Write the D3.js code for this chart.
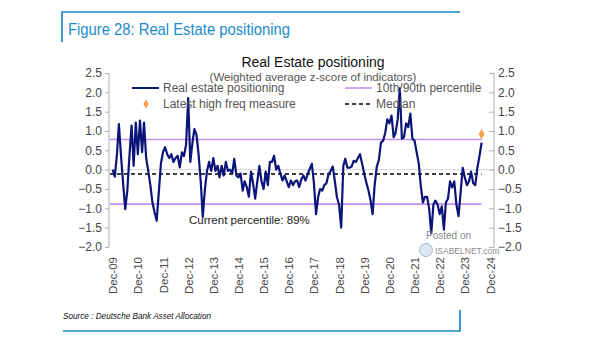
<!DOCTYPE html>
<html><head><meta charset="utf-8">
<script src="https://cdn.jsdelivr.net/npm/d3@7"></script>
<style>
html,body{margin:0;padding:0;background:#fff;}
svg{display:block;font-family:"Liberation Sans",Arial,sans-serif;}
</style></head>
<body><svg id="c" width="605" height="341"></svg>
<script>
// ---- data (monthly, Dec-2009 .. Aug-2024) ----
const startMonth = "2009-12-01";
const positioning = [
 0.0,-0.18,0.4,1.18,0.35,-0.35,-1.02,-0.55,0.35,1.14,
 0.1,1.22,0.4,1.27,0.45,1.22,0.3,-0.03,-0.4,-0.85,
 -1.1,-1.32,-0.6,0.15,0.45,0.58,0.4,0.3,0.4,0.2,
 0.3,0.36,0.06,0.45,0.35,0.65,1.85,0.2,0.7,1.05,
 0.9,0.4,-0.3,-1.22,-0.5,-0.03,0.2,-0.03,0.3,-0.03,
 0.1,-0.2,0.1,-0.15,0.2,-0.03,0.0,-0.1,0.28,-0.15,
 -0.2,-0.1,-0.54,-0.3,-0.45,-0.7,-0.05,-0.35,-0.75,-0.3,
 0.1,-0.3,-0.5,-0.05,-0.4,0.2,0.2,0.36,0.0,0.1,
 -0.1,-0.28,-0.15,-0.3,-0.45,-0.28,-0.4,-0.3,-0.28,-0.45,
 -0.25,-0.15,-0.28,-0.12,0.02,0.15,-0.35,-1.15,-0.7,-0.5,
 -0.54,-0.4,-0.35,-0.12,-0.03,0.08,-0.3,-0.72,-0.9,-1.5,
 0.1,0.28,0.05,0.05,0.08,0.23,0.2,0.3,0.4,0.15,
 -0.1,-0.33,-0.54,-0.78,-1.15,-0.4,0.08,0.25,0.7,0.75,
 0.95,1.3,1.2,1.4,0.84,0.95,1.3,2.1,0.8,0.84,
 1.2,1.1,1.45,0.8,0.75,0.45,0.15,-0.4,-0.85,-0.7,
 -0.7,-1.0,-1.65,-0.9,-0.8,-0.9,-1.15,-0.95,-1.55,-0.85,
 -0.75,-0.3,-0.46,-0.3,-0.9,-1.2,-0.6,0.05,-0.2,-0.4,
 -0.3,-0.05,-0.35,-0.4,0.05,0.35,0.7
];
const percentile90 = 0.78;
const percentile10 = -0.89;
const medianValue = -0.11;
const latestHighFreq = 0.92;
const currentPercentileText = "Current percentile: 89%";
const yTicks = [-2.0,-1.5,-1.0,-0.5,0.0,0.5,1.0,1.5,2.0,2.5];
const xTickYears = [2009,2010,2011,2012,2013,2014,2015,2016,2017,2018,2019,2020,2021,2022,2023,2024];
const xTickLabels = ["Dec-09","Dec-10","Dec-11","Dec-12","Dec-13","Dec-14","Dec-15","Dec-16","Dec-17","Dec-18","Dec-19","Dec-20","Dec-21","Dec-22","Dec-23","Dec-24"];

// ---- build ----
const svg = d3.select("#c");
const start = new Date(startMonth + "T00:00:00");
const series = positioning.map((v,i)=>({date:d3.timeMonth.offset(start,i), value:v}));
const lastDate = series[series.length-1].date;

const plotL = 109, plotR = 494, plotT = 73, plotB = 247;
const x = d3.scaleTime()
  .domain([new Date(2009,11,1), new Date(2024,11,1)])
  .range([112.7, 490]);
const y = d3.scaleLinear().domain([-2,2.5]).range([plotB, plotT]);

// Header frame
const blue = "#1b86c4";
svg.append("path").attr("d","M62,42 V12 H460").attr("fill","none").attr("stroke",blue).attr("stroke-width",1.7);
svg.append("text").attr("x",68).attr("y",35).attr("fill","#1a8ccb")
  .attr("font-size",17).attr("textLength",222).attr("lengthAdjust","spacingAndGlyphs")
  .text("Figure 28: Real Estate positioning");
svg.append("path").attr("d","M63,331 H460 V310").attr("fill","none").attr("stroke",blue).attr("stroke-width",1.7);
svg.append("text").attr("x",63).attr("y",319).attr("fill","#111")
  .attr("font-size",9.5).attr("font-style","italic").attr("textLength",148).attr("lengthAdjust","spacingAndGlyphs")
  .text("Source : Deutsche Bank Asset Allocation");

// Chart titles
svg.append("text").attr("x",313).attr("y",67).attr("text-anchor","middle").attr("font-size",14).attr("fill","#111")
  .text("Real Estate positioning");
svg.append("text").attr("x",313).attr("y",81).attr("text-anchor","middle").attr("font-size",11.5).attr("fill","#555")
  .text("(Weighted average z-score of indicators)");

// zero grid line
svg.append("line").attr("x1",plotL).attr("x2",plotR).attr("y1",y(0)).attr("y2",y(0))
  .attr("stroke","#d8d8d8").attr("stroke-width",1);

// Axes
const axisColor = "#b0b0b0";
const fmt = d3.format(".1f");
const gL = svg.append("g").attr("transform",`translate(${plotL},0)`)
  .call(d3.axisLeft(y).tickValues(yTicks).tickFormat(fmt).tickSize(4).tickPadding(3));
const gR = svg.append("g").attr("transform",`translate(${plotR},0)`)
  .call(d3.axisRight(y).tickValues(yTicks).tickFormat(fmt).tickSize(-5).tickPadding(9));
[gL,gR].forEach(g=>{
  g.select(".domain").attr("stroke",axisColor).attr("d",`M0,${plotT}V${plotB}`);
  g.selectAll(".tick line").attr("stroke",axisColor);
  g.selectAll(".tick text").attr("fill","#444").attr("font-size",12).attr("font-family","Liberation Sans, Arial, sans-serif");
});
gR.selectAll(".tick text").attr("x",4);

const gX = svg.append("g").attr("transform",`translate(0,${plotB})`)
  .call(d3.axisBottom(x).tickValues(xTickYears.map(yr=>new Date(yr,11,1))).tickFormat((d,i)=>xTickLabels[i]).tickSize(0));
gX.select(".domain").remove();
gX.selectAll(".tick text").attr("fill","#4a4a4a").attr("font-size",11.5)
  .attr("font-family","Liberation Sans, Arial, sans-serif")
  .attr("text-anchor","end").attr("transform","rotate(-90)").attr("x",-10).attr("y",0).attr("dy","0.35em");

// Percentile and median lines
const lineStart = x.invert(plotL+1);
const violet = "#c690ee";
[percentile90, percentile10].forEach(v=>{
  svg.append("line").attr("x1",x(lineStart)).attr("x2",x(lastDate)).attr("y1",y(v)).attr("y2",y(v))
    .attr("stroke",violet).attr("stroke-width",1.6);
});
svg.append("line").attr("x1",x(lineStart)).attr("x2",x(lastDate)).attr("y1",y(medianValue)).attr("y2",y(medianValue))
  .attr("stroke","#000").attr("stroke-width",1.5).attr("stroke-dasharray","4,3");

// Main series
const line = d3.line().x(d=>x(d.date)).y(d=>y(d.value));
svg.append("path").datum(series).attr("d",line).attr("fill","none")
  .attr("stroke","#0b1478").attr("stroke-width",2.2).attr("stroke-linejoin","round");

// Latest high freq measure
svg.append("path").attr("d",d3.symbol(d3.symbolDiamond,30)())
  .attr("transform",`translate(${x(lastDate)},${y(latestHighFreq)})`).attr("fill","#f6a04d");

// Current percentile annotation
svg.append("text").attr("x",189).attr("y",224).attr("font-size",11.5).attr("fill","#222").text(currentPercentileText);

// Legend
const leg = svg.append("g").attr("font-size",12).attr("fill","#555");
leg.append("line").attr("x1",132).attr("x2",159).attr("y1",88).attr("y2",88).attr("stroke","#0b1478").attr("stroke-width",2);
leg.append("text").attr("x",163).attr("y",92).attr("fill","#555").text("Real estate positioning");
leg.append("path").attr("d",d3.symbol(d3.symbolDiamond,26)()).attr("transform","translate(146,104)").attr("fill","#f6a04d");
leg.append("text").attr("x",163).attr("y",108).attr("fill","#555").text("Latest high freq measure");
leg.append("line").attr("x1",345).attr("x2",372).attr("y1",88).attr("y2",88).attr("stroke",violet).attr("stroke-width",1.6);
leg.append("text").attr("x",376).attr("y",92).attr("fill","#555").text("10th/90th percentile");
leg.append("line").attr("x1",345).attr("x2",372).attr("y1",104).attr("y2",104).attr("stroke","#000").attr("stroke-width",1.5).attr("stroke-dasharray","4,3");
leg.append("text").attr("x",376).attr("y",108).attr("fill","#555").text("Median");

// Watermark
svg.append("text").attr("x",426).attr("y",239).attr("font-size",10).attr("fill","#8a8a8a").text("Posted on");
svg.append("circle").attr("cx",426).attr("cy",250).attr("r",6.5).attr("fill","#dbe6f2").attr("stroke","#9fb6cf");
svg.append("text").attr("x",435).attr("y",254).attr("font-size",8.5).attr("fill","#8a8a8a").text("ISABELNET.com");
</script></body></html>
